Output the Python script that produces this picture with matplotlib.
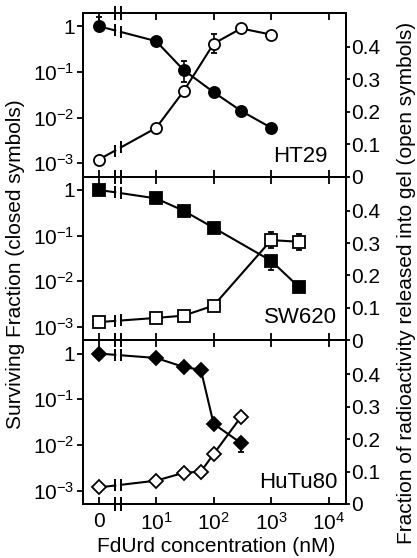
import numpy as np
import matplotlib
matplotlib.use("Agg")
import matplotlib.pyplot as plt
from matplotlib.ticker import NullLocator

plt.rcParams['font.family'] = ['Liberation Sans', 'DejaVu Sans']
plt.rcParams['mathtext.fontset'] = 'custom'
plt.rcParams['mathtext.rm'] = 'Liberation Sans'
plt.rcParams['mathtext.it'] = 'Liberation Sans:italic'
plt.rcParams['font.size'] = 15

# FdUrd concentration (nM); 0 is drawn left of the axis break
xtick_vals = [0, 10, 100, 1000, 10000]
xtick_labels = ['0', r'$10^1$', r'$10^2$', r'$10^3$', r'$10^4$']

panel_names = ['HT29', 'SW620', 'HuTu80']

ht29_x = [0, 10, 30, 100, 300, 1000]
ht29_surv = [1.0, 0.47, 0.11, 0.036, 0.014, 0.006]
ht29_surv_err = [[0, 0, 0.05, 0, 0, 0], [0.6, 0, 0.066, 0, 0, 0]]
ht29_rel = [0.052, 0.15, 0.263, 0.41, 0.457, 0.438]
ht29_rel_err = [0, 0, 0, 0.03, 0.015, 0]

sw620_x = [0, 10, 30, 100, 1000, 3000]
sw620_surv = [1.0, 0.65, 0.35, 0.148, 0.028, 0.0076]
sw620_surv_err = [[0, 0, 0, 0, 0.01, 0], [0, 0, 0, 0, 0, 0]]
sw620_rel = [0.056, 0.069, 0.076, 0.107, 0.309, 0.304]
sw620_rel_err = [0, 0, 0, 0, 0.025, 0.025]

hutu80_x = [0, 10, 30, 60, 100, 300]
hutu80_surv = [1.0, 0.8, 0.51, 0.44, 0.029, 0.011]
hutu80_surv_err = [[0, 0, 0, 0, 0, 0.004], [0, 0, 0, 0, 0, 0]]
hutu80_rel = [0.051, 0.072, 0.096, 0.10, 0.154, 0.269]
hutu80_rel_err = [0, 0, 0, 0, 0, 0]

ZERO_POS = 1.0          # where "0" sits on the log axis
BREAK_LO, BREAK_HI = 0.29, 0.39   # log10 positions of the break marks
LW = 1.5


def to_pos(xs):
    return [ZERO_POS if v == 0 else v for v in xs]


def draw_series(ax, xs, ys, yerr, marker, ms, filled, logy):
    pos = to_pos(xs)
    lx0, lx1 = np.log10(pos[0]), np.log10(pos[1])

    def y_at(lx):
        t = (lx - lx0) / (lx1 - lx0)
        if logy:
            return 10 ** (np.log10(ys[0]) + t * (np.log10(ys[1]) - np.log10(ys[0])))
        return ys[0] + t * (ys[1] - ys[0])

    yb1, yb2 = y_at(BREAK_LO), y_at(BREAK_HI)
    ax.plot([pos[0], 10 ** BREAK_LO], [ys[0], yb1], color='k', lw=LW)
    ax.plot([10 ** BREAK_HI, pos[1]], [yb2, ys[1]], color='k', lw=LW)
    ax.plot([10 ** BREAK_LO, 10 ** BREAK_HI], [yb1, yb2], ls='none',
            marker='|', ms=9, mew=1.4, color='k')
    ax.plot(pos[1:], ys[1:], color='k', lw=LW)
    ax.errorbar(pos, ys, yerr=yerr, fmt=marker, ms=ms,
                mfc='k' if filled else 'white', mec='k', mew=1.3,
                ecolor='k', elinewidth=1.2, capsize=2, capthick=1.2, zorder=3)


fig = plt.figure(figsize=(4.17, 5.58), dpi=100)

left, width = 83 / 417, 263 / 417
ph = 163.7 / 558
bottoms = [0.0968 + 2 * ph, 0.0968 + ph, 0.0968]

data = [
    (ht29_x, ht29_surv, ht29_surv_err, ht29_rel, ht29_rel_err, 'o', 8.0),
    (sw620_x, sw620_surv, sw620_surv_err, sw620_rel, sw620_rel_err, 's', 8.5),
    (hutu80_x, hutu80_surv, hutu80_surv_err, hutu80_rel, hutu80_rel_err, 'D', 6.8),
]
label_pos = [(0.93, 0.06), (0.966, 0.075), (0.966, 0.067)]

for i, (xs, surv, surv_err, rel, rel_err, mk, ms) in enumerate(data):
    ax = fig.add_axes([left, bottoms[i], width, ph])
    ax.set_xscale('log')
    ax.set_yscale('log')
    ax.set_xlim(10 ** -0.27, 10 ** 4.30)
    ax.set_ylim(10 ** -3.29, 10 ** 0.29)
    ax2 = ax.twinx()
    ax2.set_ylim(0, 0.505)

    draw_series(ax, xs, surv, surv_err, mk, ms, True, True)
    draw_series(ax2, xs, rel, rel_err, mk, ms, False, False)

    ax.set_xticks(to_pos(xtick_vals))
    ax.set_xticklabels(xtick_labels)
    ax.xaxis.set_minor_locator(NullLocator())
    ax.set_yticks([1e-3, 1e-2, 1e-1, 1])
    ax.set_yticklabels([r'$10^{-3}$', r'$10^{-2}$', r'$10^{-1}$', '1'])
    ax.yaxis.set_minor_locator(NullLocator())
    ax.tick_params(axis='x', which='both', direction='in', top=True, bottom=True,
                   length=5, width=1.3, pad=6, labelbottom=(i == 2))
    ax.tick_params(axis='y', direction='out', length=4, width=1.3, pad=2)
    ax2.set_yticks([0, 0.1, 0.2, 0.3, 0.4])
    ax2.set_yticklabels(['0', '0.1', '0.2', '0.3', '0.4'])
    ax2.tick_params(axis='y', direction='out', length=3, width=1.3, pad=1)
    for a in (ax, ax2):
        for s in a.spines.values():
            s.set_linewidth(1.4)

    # axis break marks on top and bottom spines
    for yy in (0, 1):
        ax.plot([10 ** BREAK_LO, 10 ** BREAK_HI], [yy, yy],
                transform=ax.get_xaxis_transform(), ls='none', marker='|',
                ms=10, mew=1.4, color='k', clip_on=False)

    ax2.text(label_pos[i][0], label_pos[i][1], panel_names[i], transform=ax.transAxes,
             ha='right', va='bottom', fontsize=16)

fig.text(0.036, 0.527, 'Surviving Fraction (closed symbols)', rotation=90,
         ha='center', va='center', fontsize=15)
fig.text(0.976, 0.493, 'Fraction of radioactivity released into gel (open symbols)',
         rotation=90, ha='center', va='center', fontsize=15)
fig.text(0.518, 0.02, 'FdUrd concentration (nM)', ha='center', va='center', fontsize=15)

fig.savefig('out.png', dpi=100)
